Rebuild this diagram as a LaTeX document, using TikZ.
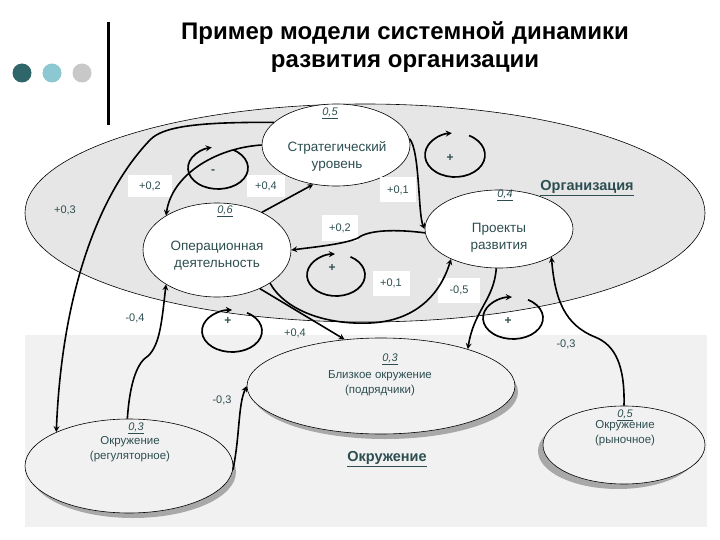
\documentclass[tikz,border=0pt]{standalone}
\usepackage{fontspec}
\setmainfont{Liberation Sans}
\usetikzlibrary{shapes.geometric,positioning}
\definecolor{orgfill}{RGB}{230,230,230}
\definecolor{envfill}{RGB}{241,241,241}
\definecolor{txt}{RGB}{45,78,80}
\definecolor{dotA}{RGB}{47,102,106}
\definecolor{dotB}{RGB}{140,200,210}
\definecolor{dotC}{RGB}{200,200,200}
\definecolor{shade}{RGB}{168,168,168}

\begin{document}
\begin{tikzpicture}[x=1pt,y=-1pt,
	oval/.style={ellipse,draw,line width=0.6pt,inner sep=0pt},
	innerOval/.style={oval,fill=white},
	envOval/.style={oval,fill=envfill},
	shadowOval/.style={ellipse,fill=shade,inner sep=0pt},
	ovaltext/.style={text=txt,align=center,font=\fontsize{13.5}{17}\selectfont},
	envtext/.style={text=txt,align=center,font=\fontsize{11.5}{14.5}\selectfont},
	weight/.style={text=txt,font=\fontsize{11}{13}\selectfont\itshape},
	coef/.style={text=txt,font=\fontsize{11}{13}\selectfont,inner sep=1pt},
	coefbox/.style={coef,fill=white,inner sep=0pt},
	heading/.style={text=txt,font=\fontsize{14.5}{17}\selectfont\bfseries},
	link/.style={line width=1.6pt,-stealth},
	fbloop/.style={line width=1.7pt,-stealth},
	looplabel/.style={text=txt,font=\fontsize{12}{14}\selectfont\bfseries}]
	\useasboundingbox (0,0) rectangle (720,540);

	% background areas
	\fill[envfill] (25,335) rectangle (707,527);
	\node[oval,fill=orgfill,minimum width=680pt,minimum height=218pt] (org) at (365,213) {};

	% title block
	\fill[dotA] (22,73) circle (9.5pt);
	\fill[dotB] (52,73) circle (9.5pt);
	\fill[dotC] (82,73) circle (9.5pt);
	\draw[line width=3pt] (108,22) -- (108,125);
	\node[align=center,text=black,font=\fontsize{24}{28}\selectfont\bfseries] (title) at (405,47)
		{Пример модели системной динамики\\развития организации};

	% elements
	\node[innerOval,minimum width=148pt,minimum height=82pt] (strat) at (336,145) {};
	\node[innerOval,minimum width=148pt,minimum height=94pt] (oper) at (217,250) {};
	\node[innerOval,minimum width=148pt,minimum height=78pt] (proj) at (499,229) {};
	\node[shadowOval,minimum width=266pt,minimum height=94pt] (closeSh) at (385,392) {};
	\node[shadowOval,minimum width=206pt,minimum height=92pt] (regSh) at (133,472) {};
	\node[shadowOval,minimum width=160pt,minimum height=76pt] (marketSh) at (618,451) {};
	\node[envOval,minimum width=268pt,minimum height=96pt] (close) at (381,386) {};
	\node[envOval,minimum width=208pt,minimum height=94pt] (reg) at (129,466) {};
	\node[envOval,minimum width=162pt,minimum height=78pt] (market) at (624,445) {};

	\node[ovaltext] (stratTxt) at (337,156) {Стратегический\\уровень};
	\node[ovaltext] (operTxt) at (217,256) {Операционная\\деятельность};
	\node[ovaltext] (projTxt) at (499,238) {Проекты\\развития};
	\node[envtext] (closeTxt) at (380,383) {Близкое окружение\\(подрядчики)};
	\node[envtext] (regTxt) at (130,449) {Окружение\\(регуляторное)};
	\node[envtext] (marketTxt) at (625,433) {Окружение\\(рыночное)};

	\node[weight] (wStrat) at (330,113) {\underline{0,5}};
	\node[weight] (wOper) at (225,211) {\underline{0,6}};
	\node[weight] (wProj) at (505,195) {\underline{0,4}};
	\node[weight] (wClose) at (390,359) {\underline{0,3}};
	\node[weight] (wReg) at (136,428) {\underline{0,3}};
	\node[weight] (wMarket) at (625,415) {\underline{0,5}};

	\node[heading] (orgTitle) at (587,188) {\underline{Организация}};
	\node[heading] (envTitle) at (387,459) {\underline{Окружение}};

	% coefficients
	\node[coefbox,minimum width=44pt,minimum height=22pt] (c1) at (150,186) {+0,2};
	\node[coefbox,minimum width=38pt,minimum height=22pt] (c2) at (266,186) {+0,4};
	\node[coefbox,minimum width=36pt,minimum height=25pt] (c3) at (398,190) {+0,1};
	\node[coefbox,minimum width=36pt,minimum height=25pt] (c4) at (340,228) {+0,2};
	\node[coefbox,minimum width=37pt,minimum height=25pt] (c5) at (391,283) {+0,1};
	\node[coefbox,minimum width=42pt,minimum height=25pt] (c6) at (459,290) {-0,5};
	\node[coef] (c7) at (65,210) {+0,3};
	\node[coef] (c8) at (135,318) {-0,4};
	\node[coef] (c9) at (295,333) {+0,4};
	\node[coef] (c10) at (222,400) {-0,3};
	\node[coef] (c11) at (566,344) {-0,3};

	% feedback loops
	\coordinate (l1) at (218,168);
	\coordinate (l2) at (455,155);
	\coordinate (l3) at (336,275);
	\coordinate (l4) at (232,331);
	\coordinate (l5) at (513,318);
	\draw[fbloop] ([shift={(-60:30 and 21)}]l1) arc[start angle=-60,end angle=258,x radius=30,y radius=21];
	\draw[fbloop] ([shift={(-62:30 and 22)}]l2) arc[start angle=-62,end angle=264,x radius=30,y radius=22];
	\draw[fbloop] ([shift={(-60:29 and 21)}]l3) arc[start angle=-60,end angle=268,x radius=29,y radius=21];
	\draw[fbloop] ([shift={(-60:30 and 21)}]l4) arc[start angle=-60,end angle=270,x radius=30,y radius=21];
	\draw[fbloop] ([shift={(-60:30 and 21)}]l5) arc[start angle=-60,end angle=268,x radius=30,y radius=21];
	\node[looplabel] (s1) at (213,172) {-};
	\node[looplabel] (s2) at (450,158) {+};
	\node[looplabel] (s3) at (332,268) {+};
	\node[looplabel] (s4) at (228,321) {+};
	\node[looplabel] (s5) at (508,321) {+};

	% links
	\draw[link] (strat.180) .. controls (215,148) and (172,175) .. (oper.146);
	\draw[link] (oper.40) -- (strat.240);
	\draw[link] (strat.5) .. controls (420,150) and (418,215) .. (proj.180);
	\draw[link] (proj.183) .. controls (395,229) and (368,230) .. (358,238)
		.. controls (345,244) and (315,247) .. (oper.0);
	\draw[link] (oper.-32) .. controls (285,310) and (325,325) .. (370,323)
		.. controls (415,321) and (440,295) .. (proj.212);
	\draw[link] (proj.266) .. controls (494,300) and (474,310) .. (close.23);
	\draw[link] (oper.-42) -- (close.128);
	\draw[link] (reg.92) .. controls (130,380) and (138,362) .. (148,356)
		.. controls (160,345) and (162,320) .. (oper.214);
	\draw[link] (strat.160) .. controls (200,122) and (163,126) .. (150,140)
		.. controls (100,192) and (62,290) .. (reg.155);
	\draw[link] (reg.-2) .. controls (240,435) and (238,405) .. (close.180);
	\draw[link] (market.90) .. controls (625,365) and (615,345) .. (595,337)
		.. controls (565,325) and (555,300) .. (proj.-28);
\end{tikzpicture}
\end{document}
